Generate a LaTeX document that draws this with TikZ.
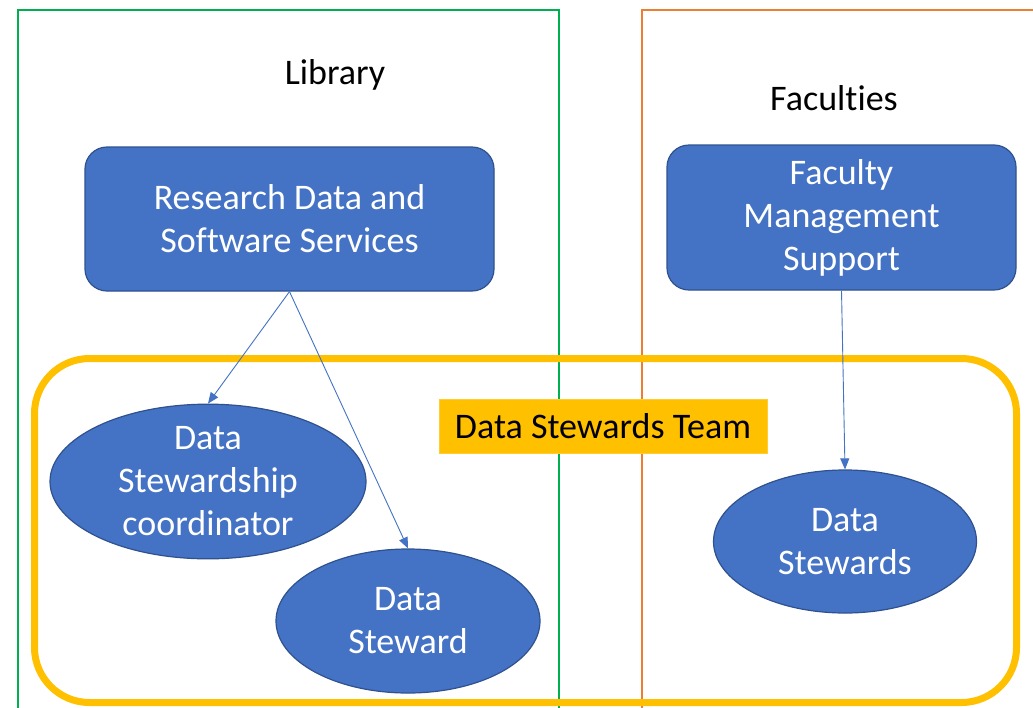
\documentclass[tikz,border=0pt]{standalone}
\usepackage{fontspec}
\setmainfont[Ligatures=NoCommon]{Carlito}
\usetikzlibrary{shapes.geometric,arrows.meta}
\definecolor{bluefill}{HTML}{4472C4}
\definecolor{blueedge}{HTML}{2F528F}
\definecolor{grn}{HTML}{00B050}
\definecolor{org}{HTML}{ED7D31}
\definecolor{ylw}{HTML}{FFC000}
\tikzset{
  big/.style={font=\fontsize{36}{43}\selectfont},
  bluebox/.style={big, draw=blueedge, line width=1.2pt, fill=bluefill, text=white, rounded corners=22pt, inner sep=0pt, align=center},
  blueell/.style={big, ellipse, draw=blueedge, line width=1.2pt, fill=bluefill, text=white, inner sep=0pt, align=center},
  conn/.style={draw=bluefill, line width=0.9pt, -{Triangle[length=11pt,width=9pt]}},
  title/.style={big, text=black}
}
\begin{document}
\begin{tikzpicture}[x=1pt,y=-1pt]
\useasboundingbox (0,0) rectangle (1033,707);
\clip (0,0) rectangle (1033,707);
\fill[white] (0,0) rectangle (1033,707);
% group frames
\draw[grn, line width=1.6pt] (18,730) -- (18,10) -- (559,10) -- (559,730);
\draw[org, line width=1.6pt] (642,730) -- (642,10) -- (1060,10);
\node[title] (lib) at (335,75) {Library};
\node[title] (fac) at (834,98) {Faculties};
% team frame
\draw[ylw, line width=7pt, rounded corners=55pt] (34.5,358.5) rectangle (1016.5,702.5);
\node[big, fill=ylw, draw=ylw!80!white, line width=0.6pt, minimum width=328pt, minimum height=54pt, inner sep=0pt] (team) at (603,426) {Data Stewards Team};
% boxes
\node[bluebox, minimum width=409pt, minimum height=144pt] (rdss) at (289.5,219) {Research Data and\\Software Services};
\node[bluebox, minimum width=349pt, minimum height=145pt] (fms) at (841.5,217.5) {Faculty\\Management\\Support};
% ellipses
\node[blueell, minimum width=316pt, minimum height=144pt] (coord) at (208,481.5) {Data\\Stewardship\\coordinator};
\node[blueell, minimum width=264pt, minimum height=144pt] (stew) at (408,621) {Data\\Steward};
\node[blueell, minimum width=263pt, minimum height=143pt] (stews) at (845,541.5) {Data\\Stewards};
% connectors
\draw[conn] (rdss.south) -- (coord.north);
\draw[conn] (rdss.south) -- (stew.north);
\draw[conn] (fms.south) -- (stews.north);
\end{tikzpicture}
\end{document}
